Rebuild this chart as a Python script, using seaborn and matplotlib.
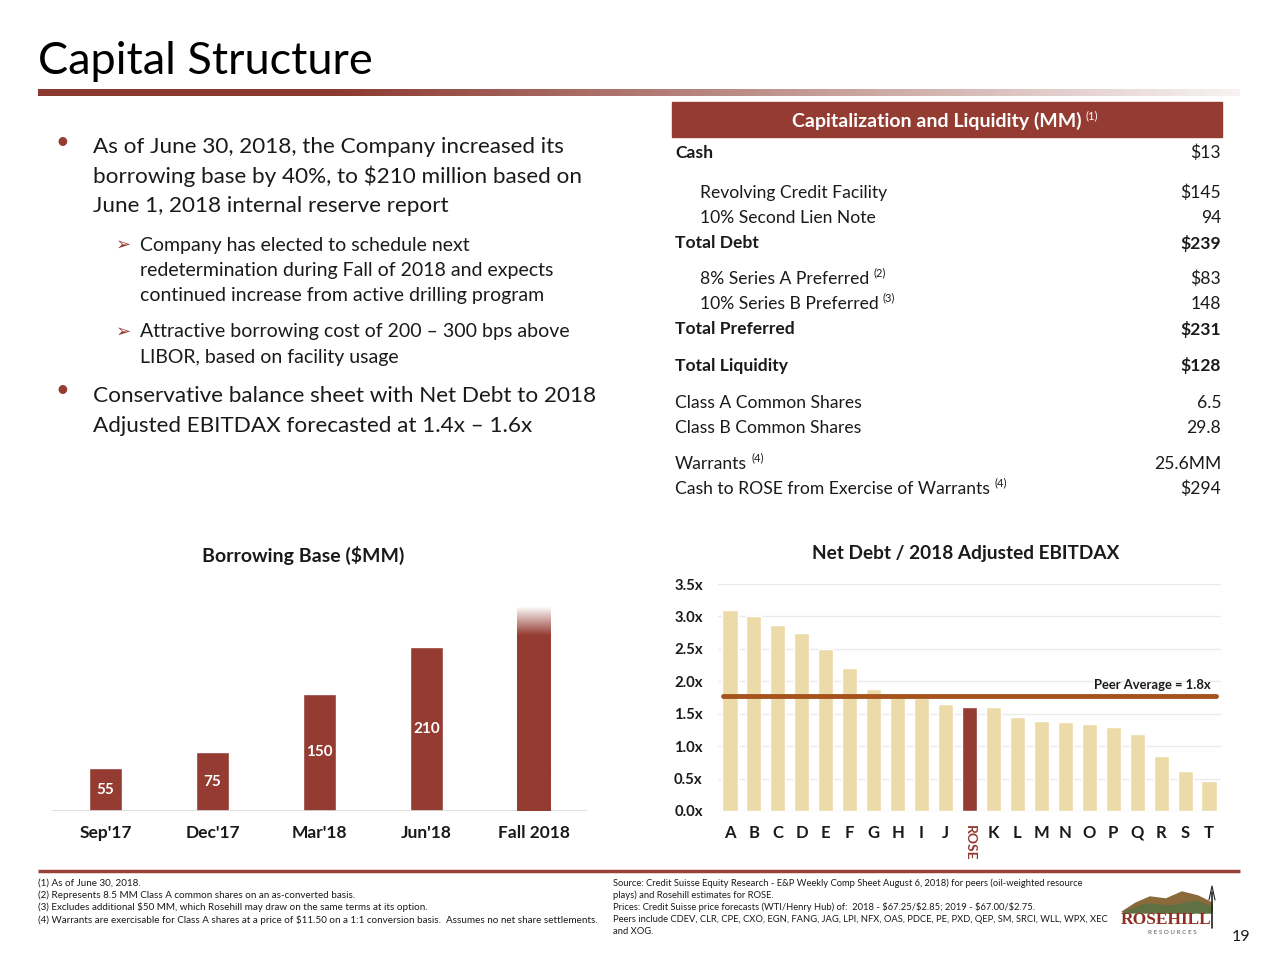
import matplotlib
matplotlib.use('Agg')
import matplotlib.pyplot as plt
import seaborn as sns
import numpy as np
import pandas as pd
from matplotlib.patches import Rectangle, Polygon
from matplotlib.colors import to_rgb

# ---- data -------------------------------------------------------------
bb_periods = ["Sep'17", "Dec'17", "Mar'18", "Jun'18", "Fall 2018"]
bb_values = [55, 75, 150, 210, 262]
bb_labels = ['55', '75', '150', '210', '']

peers = ['A', 'B', 'C', 'D', 'E', 'F', 'G', 'H', 'I', 'J', 'ROSE',
         'K', 'L', 'M', 'N', 'O', 'P', 'Q', 'R', 'S', 'T']
leverage = [3.10, 3.00, 2.87, 2.74, 2.50, 2.20, 1.88, 1.76, 1.75, 1.65, 1.60,
            1.60, 1.45, 1.39, 1.37, 1.34, 1.29, 1.19, 0.85, 0.62, 0.46]
peer_avg = 1.77
peer_avg_label = 1.8
lev_ticks = [0.0, 0.5, 1.0, 1.5, 2.0, 2.5, 3.0, 3.5]

table_labels = ['Cash', 'Revolving Credit Facility', '10% Second Lien Note', 'Total Debt',
                '8% Series A Preferred', '10% Series B Preferred', 'Total Preferred',
                'Total Liquidity', 'Class A Common Shares', 'Class B Common Shares',
                'Warrants', 'Cash to ROSE from Exercise of Warrants']
table_values = ['$13', '$145', '94', '$239', '$83', '148', '$231', '$128',
                '6.5', '29.8', '25.6MM', '$294']
table_notes = ['', '', '', '', '(2)', '(3)', '', '', '', '', '(4)', '(4)']

bullet1 = ['As of June 30, 2018, the Company increased its',
           'borrowing base by 40%, to $210 million based on',
           'June 1, 2018 internal reserve report']
sub1 = ['Company has elected to schedule next',
        'redetermination during Fall of 2018 and expects',
        'continued increase from active drilling program']
sub2 = ['Attractive borrowing cost of 200 \u2013 300 bps above',
        'LIBOR, based on facility usage']
bullet2 = ['Conservative balance sheet with Net Debt to 2018',
           'Adjusted EBITDAX forecasted at 1.4x \u2013 1.6x']

notes_left = ['(1) As of June 30, 2018.',
              '(2) Represents 8.5 MM Class A common shares on an as-converted basis.',
              '(3) Excludes additional $50 MM, which Rosehill may draw on the same terms at its option.',
              '(4) Warrants are exercisable for Class A shares at a price of $11.50 on a 1:1 conversion basis.  Assumes no net share settlements.']
notes_right = ['Source: Credit Suisse Equity Research - E&P Weekly Comp Sheet August 6, 2018) for peers (oil-weighted resource',
               'plays) and Rosehill estimates for ROSE.',
               'Prices: Credit Suisse price forecasts (WTI/Henry Hub) of:  2018 - $67.25/$2.85; 2019 - $67.00/$2.75.',
               'Peers include CDEV, CLR, CPE, CXO, EGN, FANG, JAG, LPI, NFX, OAS, PDCE, PE, PXD, QEP, SM, SRCI, WLL, WPX, XEC',
               'and XOG.']

# ---- style ------------------------------------------------------------
RED = '#943b32'
TAN = '#ecdaa9'
TXT = '#1a1a1a'

sns.set_theme(style='white')
plt.rcParams['font.family'] = ['Lato', 'DejaVu Sans']

fig = plt.figure(figsize=(12.8, 9.6), dpi=100)
bg = fig.add_axes([0, 0, 1, 1], zorder=0)
bg.axis('off')

# title and gradient rule
bg.text(38, 62, 'Capital Structure', fontsize=32.5, color='black', va='center')
grad = np.zeros((1, 400, 4))
grad[..., :3] = to_rgb('#8b3a30')
t = np.linspace(0, 1, 400)
grad[0, :, 3] = np.clip(1 - (t - 0.25) / 0.8, 0.03, 1)
bg.imshow(grad, extent=(38, 1240, 96, 89), aspect='auto', zorder=1)
bg.set_xlim(0, 1280)
bg.set_ylim(960, 0)

# bullets
def put_lines(lines, x, y0, step, size):
    for k, line in enumerate(lines):
        bg.text(x, y0 + k * step, line, fontsize=size, color=TXT, va='center',
                parse_math=False)

bg.text(62, 142, '\u2022', fontsize=17, color=RED, va='center', ha='center')
put_lines(bullet1, 93, 147, 29.5, 16.2)
bg.text(124, 245, '\u27a2', fontsize=13, color=RED, va='center', ha='center', family='DejaVu Sans')
put_lines(sub1, 140, 245, 25.5, 14)
bg.text(124, 332, '\u27a2', fontsize=13, color=RED, va='center', ha='center', family='DejaVu Sans')
put_lines(sub2, 140, 332, 25.5, 14)
bg.text(62, 391, '\u2022', fontsize=17, color=RED, va='center', ha='center')
put_lines(bullet2, 93, 396, 30.5, 16.2)

# capitalization table
bg.add_patch(Rectangle((672, 102), 550, 35, color=RED, zorder=1))
hdr = bg.text(937, 121, 'Capitalization and Liquidity (MM)', fontsize=14, fontweight='bold',
              color='white', ha='center', va='center', zorder=2)
bg.annotate('(1)', xy=(1, 1), xycoords=hdr, xytext=(3, 1), textcoords='offset points',
            fontsize=8, color='white', va='top', zorder=2)

row_y = [153, 193, 218, 243, 279, 304, 329, 366, 403, 428, 464, 489]
indent = [False, True, True, False, True, True, False, False, False, False, False, False]
bold_label = [True, False, False, True, False, False, True, True, False, False, False, False]
bold_value = [False, False, False, True, False, False, True, True, False, False, False, False]
for lab, val, note, y, ind, bl, bv in zip(table_labels, table_values, table_notes,
                                          row_y, indent, bold_label, bold_value):
    tx = bg.text(700 if ind else 675, y, lab, fontsize=12.6, color=TXT, va='center',
                 fontweight='bold' if bl else 'normal')
    bg.text(1221, y, val, fontsize=12.6, color=TXT, va='center', ha='right',
            fontweight='bold' if bv else 'normal', parse_math=False)
    if note:
        bg.annotate(note, xy=(1, 1), xycoords=tx, xytext=(3, 3), textcoords='offset points',
                    fontsize=8, color=TXT, va='top')

# ---- borrowing base chart --------------------------------------------
ax1 = fig.add_axes([52 / 1280, (960 - 811) / 960, 535 / 1280, 211 / 960], zorder=2)
ax1.patch.set_alpha(0)
sns.barplot(x=bb_periods, y=bb_values, color=RED, saturation=1, width=0.31, ax=ax1)

# last bar fades out at the top
p = ax1.patches[-1]
x0, w, h = p.get_x(), p.get_width(), p.get_height()
p.set_visible(False)
fade = np.zeros((200, 1, 4))
fade[..., :3] = to_rgb(RED)
s = np.linspace(0, 1, 200)
fade[:, 0, 3] = np.clip((1 - s) / 0.14, 0, 1)
ax1.imshow(fade, extent=(x0, x0 + w, 0, h), origin='lower', aspect='auto', zorder=3)
ax1.set_xlim(-0.5, len(bb_periods) - 0.5)
ax1.set_ylim(0, 270)

for i, (v, lab) in enumerate(zip(bb_values, bb_labels)):
    if lab:
        ax1.text(i, v / 2, lab, color='white', fontweight='bold', fontsize=11,
                 ha='center', va='center', zorder=4)
ax1.axhline(0, color='#d9d9d9', lw=1.2, zorder=1)
for sp in ax1.spines.values():
    sp.set_visible(False)
ax1.set_yticks([])
ax1.set_xlabel('')
ax1.tick_params(axis='x', length=0, pad=10)
for tl in ax1.get_xticklabels():
    tl.set_fontweight('bold')
    tl.set_fontsize(12.5)
    tl.set_color(TXT)
bg.text(303, 555, 'Borrowing Base ($MM)', fontsize=14, fontweight='bold', color=TXT,
        ha='center', va='center')

# ---- net debt / EBITDAX chart ----------------------------------------
ax2 = fig.add_axes([718 / 1280, (960 - 811) / 960, 503 / 1280, 227 / 960], zorder=2)
ax2.patch.set_alpha(0)
df = pd.DataFrame({'peer': peers, 'lev': leverage})
palette = {pp: (RED if pp == 'ROSE' else TAN) for pp in peers}
sns.barplot(data=df, x='peer', y='lev', hue='peer', palette=palette, legend=False,
            saturation=1, width=0.63, ax=ax2, zorder=2)
ax2.set_xlim(-0.5, len(peers) - 0.5)
ax2.set_ylim(0, 3.5)
ax2.set_yticks(lev_ticks)
ax2.set_yticklabels([f'{v:.1f}x' for v in lev_ticks])
ax2.yaxis.grid(True, color='#ebebeb', lw=1)
ax2.set_axisbelow(True)
for sp in ax2.spines.values():
    sp.set_visible(False)
ax2.set_xlabel('')
ax2.set_ylabel('')
ax2.tick_params(axis='y', length=0, pad=11)
ax2.tick_params(axis='x', length=0, pad=10)
for tl in ax2.get_yticklabels():
    tl.set_fontweight('bold')
    tl.set_fontsize(10.7)
    tl.set_color(TXT)
for tl in ax2.get_xticklabels():
    tl.set_fontweight('bold')
    tl.set_fontsize(12)
    tl.set_color(TXT)
    if tl.get_text() == 'ROSE':
        tl.set_rotation(270)
        tl.set_color(RED)
        tl.set_fontsize(10)
ax2.plot([-0.3, len(peers) - 0.7], [peer_avg, peer_avg], color='#a6521d', lw=3.5,
         solid_capstyle='round', zorder=4)
ax2.text(len(peers) - 0.95, peer_avg + 0.17, f'Peer Average = {peer_avg_label:.1f}x',
         fontsize=9.4, fontweight='bold', color=TXT, ha='right', va='center', zorder=5)
bg.text(966, 553, 'Net Debt / 2018 Adjusted EBITDAX', fontsize=13.7, fontweight='bold',
        color=TXT, ha='center', va='center')

# ---- footer ----------------------------------------------------------
bg.plot([38, 1240], [871, 871], color='#9b4038', lw=2.5, solid_capstyle='butt')
for k, line in enumerate(notes_left):
    bg.text(38, 883 + k * 12.2, line, fontsize=7.15, color=TXT, va='center',
            parse_math=False)
for k, line in enumerate(notes_right):
    bg.text(613, 883 + k * 12.2, line, fontsize=6.75, color=TXT, va='center',
            parse_math=False)

# logo
bg.add_patch(Polygon([(1122, 912), (1136, 903), (1150, 897), (1166, 899), (1182, 892),
                      (1198, 896), (1212, 903), (1212, 912), (1122, 912)],
                     closed=True, color='#8a6a3a', zorder=1))
bg.add_patch(Polygon([(1124, 912), (1146, 904), (1172, 906), (1196, 901), (1212, 907),
                      (1212, 913), (1124, 913)], closed=True, color='#5f7042', zorder=1))
bg.plot([1212, 1212], [892, 928], color='#222222', lw=1.2)
bg.plot([1209, 1212, 1215], [900, 886, 900], color='#222222', lw=0.8)
bg.text(1166, 920, 'ROSEHILL', fontsize=12.5, fontweight='bold', color='#8c2f22',
        ha='center', va='center', family='Liberation Serif', zorder=2)
bg.text(1172, 932, 'R E S O U R C E S', fontsize=4.5, color='#555555',
        ha='center', va='center', zorder=2)
bg.text(1241, 937, '19', fontsize=11.5, color=TXT, ha='center', va='center')

fig.savefig('out.png', dpi=100)
